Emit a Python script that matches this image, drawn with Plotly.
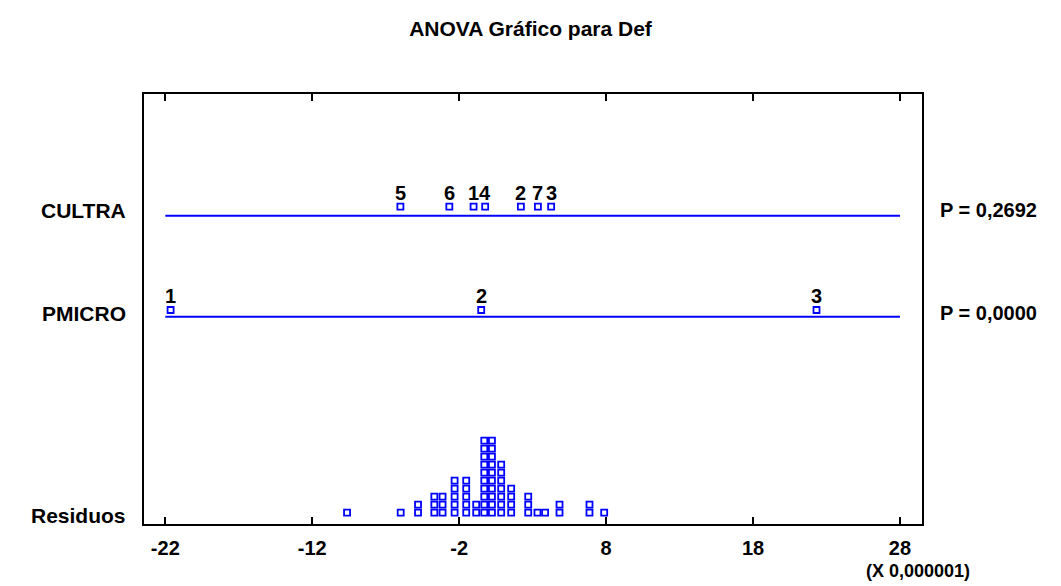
import plotly.graph_objects as go

# Factor level effects (units of 1e-6)
cultra_levels = ["5", "6", "1", "4", "2", "7", "3"]
cultra_means = [-6.00, -2.67, -1.02, -0.23, 2.20, 3.36, 4.26]
pmicro_levels = ["1", "2", "3"]
pmicro_means = [-21.64, -0.50, 22.32]

# Residual dot plot: bin centres and how many residuals fall in each bin
resid_bins = [-9.63, -5.98, -4.80, -3.69, -3.13, -2.31, -1.52, -0.84, -0.29,
              0.23, 0.86, 1.54, 2.70, 3.33, 3.85, 4.83, 6.87, 7.87]
resid_counts = [1, 1, 2, 3, 3, 5, 5, 2, 10, 10, 7, 4, 3, 1, 1, 2, 2, 1]

factor_names = ["CULTRA", "PMICRO", "Residuos"]
p_values = ["P = 0,2692", "P = 0,0000", None]

tick_vals = [-22, -12, -2, 8, 18, 28]
tick_text = ["-22", "-12", "-2", "8", "18", "28"]

# vertical layout of the rows (y measured in pixels up from the axis)
line_y = {"CULTRA": 308.3, "PMICRO": 207.3}
dot_y = {"CULTRA": 317.3, "PMICRO": 214.0}
name_y = {"CULTRA": 314, "PMICRO": 211, "Residuos": 9}
resid_base, resid_step = 11.3, 8.0

BLUE = "#0000FF"
FONT = "Liberation Sans, Arial, sans-serif"

fig = go.Figure()

# reference lines spanning the whole scale
for name in ["CULTRA", "PMICRO"]:
    fig.add_trace(go.Scatter(
        x=[tick_vals[0], tick_vals[-1]], y=[line_y[name]] * 2,
        mode="lines", line=dict(color=BLUE, width=2),
        hoverinfo="skip", showlegend=False))

marker = dict(symbol="square-open", size=6, color=BLUE, line=dict(width=1.8, color=BLUE))

for name, levels, means in [("CULTRA", cultra_levels, cultra_means),
                            ("PMICRO", pmicro_levels, pmicro_means)]:
    fig.add_trace(go.Scatter(
        x=means, y=[dot_y[name]] * len(means), mode="markers",
        marker=marker, showlegend=False, text=levels))
    for lv, m in zip(levels, means):
        fig.add_annotation(x=m, y=dot_y[name], text=f"<b>{lv}</b>", showarrow=False,
                           yanchor="bottom", yshift=1,
                           font=dict(family=FONT, size=20, color="black"))

# stacked residual dots
rx, ry = [], []
for b, c in zip(resid_bins, resid_counts):
    for k in range(c):
        rx.append(b)
        ry.append(resid_base + k * resid_step)
fig.add_trace(go.Scatter(x=rx, y=ry, mode="markers", marker=marker, showlegend=False))

# row names on the left, p-values on the right
for name, p in zip(factor_names, p_values):
    fig.add_annotation(x=0, xref="paper", xanchor="right", xshift=-16,
                       y=name_y[name], yref="y", text=f"<b>{name}</b>",
                       showarrow=False, font=dict(family=FONT, size=21, color="black"))
    if p:
        fig.add_annotation(x=1, xref="paper", xanchor="left", xshift=16,
                           y=name_y[name], yref="y", text=f"<b>{p}</b>",
                           showarrow=False, font=dict(family=FONT, size=20, color="black"))

fig.add_annotation(x=1, xref="paper", xanchor="center", xshift=-4,
                   y=0, yref="paper", yanchor="middle", yshift=-47,
                   text="<b>(X 0,000001)</b>",
                   showarrow=False, font=dict(family=FONT, size=18, color="black"))

fig.update_layout(
    width=1061, height=586,
    margin=dict(l=144, r=139, t=94, b=62),
    paper_bgcolor="white", plot_bgcolor="white",
    title=dict(text="<b>ANOVA Gráfico para Def</b>", x=0.5, xanchor="center",
               y=1 - 29 / 586, yanchor="middle",
               font=dict(family=FONT, size=21, color="black")),
    xaxis=dict(range=[-23.45, 29.5], tickvals=tick_vals, ticktext=tick_text,
               ticks="inside", ticklen=7, tickwidth=2, tickcolor="black",
               showline=True, linewidth=2, linecolor="black", mirror="ticks",
               showgrid=False, zeroline=False, ticklabelstandoff=5,
               tickfont=dict(family=FONT, size=20, color="black", weight="bold")),
    yaxis=dict(range=[0, 430], showline=True, linewidth=2, linecolor="black",
               mirror=True, showgrid=False, zeroline=False, showticklabels=False,
               ticks=""),
)

fig.write_html("out.html")
